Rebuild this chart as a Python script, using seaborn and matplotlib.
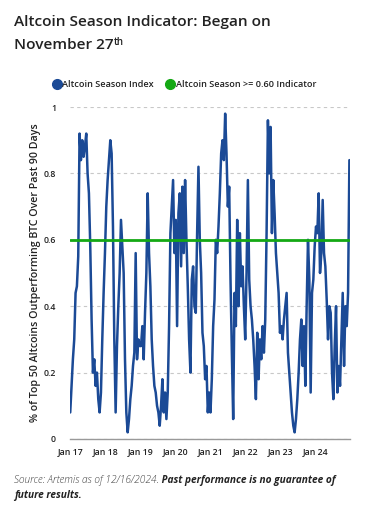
import pandas as pd
import seaborn as sns
import matplotlib.pyplot as plt
import matplotlib.dates as mdates
from matplotlib.lines import Line2D

# index values, roughly every two weeks
season_index = [
    # 2017 - 2018
    0.08, 0.16, 0.24, 0.30, 0.44, 0.46, 0.55, 0.92, 0.84, 0.90, 0.85, 0.88, 0.92,
    0.80, 0.74, 0.58, 0.36, 0.20, 0.24, 0.16, 0.20, 0.12, 0.08, 0.14, 0.30, 0.44,
    0.56, 0.70, 0.78, 0.84, 0.90, 0.86, 0.64, 0.30, 0.08, 0.28, 0.40, 0.50, 0.66,
    0.58, 0.50, 0.24, 0.08, 0.02, 0.06, 0.12, 0.16, 0.22, 0.26, 0.56, 0.24, 0.30,
    0.28,
    # 2019 - 2020
    0.28, 0.34, 0.24, 0.38, 0.50, 0.74, 0.56, 0.46, 0.30, 0.22, 0.16, 0.14, 0.10,
    0.08, 0.04, 0.10, 0.18, 0.08, 0.14, 0.06, 0.14, 0.34, 0.62, 0.70, 0.78, 0.56,
    0.66, 0.34, 0.68, 0.74, 0.52, 0.76, 0.56, 0.78, 0.60, 0.46, 0.30, 0.20, 0.48,
    0.52, 0.40, 0.38, 0.62, 0.82, 0.60, 0.50, 0.32, 0.28, 0.18, 0.22, 0.08, 0.14,
    # 2021 - 2022
    0.08, 0.18, 0.34, 0.42, 0.60, 0.56, 0.64, 0.74, 0.86, 0.90, 0.84, 0.98, 0.86,
    0.70, 0.76, 0.48, 0.26, 0.06, 0.44, 0.34, 0.66, 0.40, 0.62, 0.46, 0.52, 0.40,
    0.30, 0.50, 0.78, 0.48, 0.40, 0.36, 0.30, 0.22, 0.12, 0.32, 0.18, 0.30, 0.24,
    0.34, 0.26, 0.36, 0.62, 0.96, 0.80, 0.94, 0.62, 0.78, 0.68, 0.56, 0.50, 0.44,
    0.32,
    # 2023 - 2024
    0.34, 0.30, 0.36, 0.40, 0.44, 0.26, 0.20, 0.14, 0.08, 0.04, 0.02, 0.06, 0.12,
    0.20, 0.30, 0.36, 0.22, 0.34, 0.16, 0.40, 0.60, 0.48, 0.14, 0.44, 0.48, 0.58,
    0.64, 0.62, 0.74, 0.50, 0.56, 0.72, 0.56, 0.52, 0.42, 0.30, 0.40, 0.38, 0.20,
    0.12, 0.28, 0.40, 0.14, 0.22, 0.16, 0.30, 0.44, 0.22, 0.40, 0.34, 0.44, 0.84,
]
threshold = 0.60
start_date = '2017-01-01'
end_date = '2024-12-16'
y_ticks = [0, 0.2, 0.4, 0.6, 0.8, 1]
y_tick_labels = ['0', '0.2', '0.4', '0.6', '0.8', '1']

dates = pd.date_range(start_date, end_date, periods=len(season_index))
df = pd.DataFrame({'Date': dates, 'Index': season_index})
df['Indicator'] = threshold

blue = '#1b4a96'
green = '#14a814'
txt = '#222222'

sns.set_theme(style='white')
plt.rcParams['font.family'] = ['Open Sans', 'DejaVu Sans']

fig = plt.figure(figsize=(3.88, 5.12), dpi=100)
ax = fig.add_axes([0.180, 0.1426, 0.722, 0.6484])

sns.lineplot(x='Date', y='Index', data=df, color=blue, linewidth=1.8, ax=ax)
sns.lineplot(x='Date', y='Indicator', data=df, color=green, linewidth=2.0, ax=ax)

ax.set_ylim(0, 1)
ax.set_xlim(pd.Timestamp('2016-12-28'), pd.Timestamp('2024-12-22'))
ax.set_yticks(y_ticks)
ax.set_yticklabels(y_tick_labels)
ax.xaxis.set_major_locator(mdates.YearLocator())
ax.xaxis.set_major_formatter(mdates.DateFormatter('%b %y'))
ax.yaxis.grid(True, linestyle=(0, (3, 3)), color='#c8c8c8', linewidth=0.8)
ax.set_axisbelow(True)
for s in ['top', 'right', 'left']:
    ax.spines[s].set_visible(False)
ax.spines['bottom'].set_color('#999999')
ax.spines['bottom'].set_linewidth(1.0)
ax.tick_params(axis='both', length=0, labelsize=6.3, labelcolor=txt)
ax.tick_params(axis='y', pad=10)
ax.tick_params(axis='x', pad=6)
for lab in ax.get_xticklabels() + ax.get_yticklabels():
    lab.set_fontweight('semibold')
ax.set_xlabel('')
ax.set_ylabel('% of Top 50 Altcoins Outperforming BTC Over Past 90 Days',
              fontsize=7.7, fontweight='semibold', color=txt, labelpad=2)

handles = [
    Line2D([], [], marker='o', linestyle='', color=blue, markersize=7),
    Line2D([], [], marker='o', linestyle='', color=green, markersize=7),
]
leg = fig.legend(handles, ['Altcoin Season Index', 'Altcoin Season >= 0.60 Indicator'],
                 loc='center', bbox_to_anchor=(0.474, 0.834), ncol=2, frameon=False,
                 handletextpad=0.0, columnspacing=1.2, handlelength=1.2,
                 prop={'size': 6.6, 'weight': 'semibold'})
for t in leg.get_texts():
    t.set_color(txt)

# title
fig.text(0.036, 0.949, 'Altcoin Season Indicator: Began on', fontsize=11.1,
         fontweight='semibold', color=txt, va='baseline')
t2 = fig.text(0.036, 0.904, 'November 27', fontsize=11.1,
              fontweight='semibold', color=txt, va='baseline')
ax.annotate('th', xy=(1, 1), xycoords=t2, xytext=(0.5, 0.5), textcoords='offset points',
            fontsize=7.0, fontweight='semibold', color=txt, va='top', ha='left',
            annotation_clip=False)

# footer
f1 = fig.text(0.036, 0.056, 'Source: Artemis as of 12/16/2024.', fontsize=7.3,
              style='italic', fontweight='light', color='#444444', va='baseline')
ax.annotate(' Past performance is no guarantee of', xy=(1, 0), xycoords=f1,
            fontsize=7.3, style='italic', fontweight='bold', color=txt,
            va='bottom', ha='left', annotation_clip=False)
fig.text(0.036, 0.028, 'future results.', fontsize=7.3, style='italic',
         fontweight='bold', color=txt, va='baseline')

fig.savefig('out.png', dpi=100)
